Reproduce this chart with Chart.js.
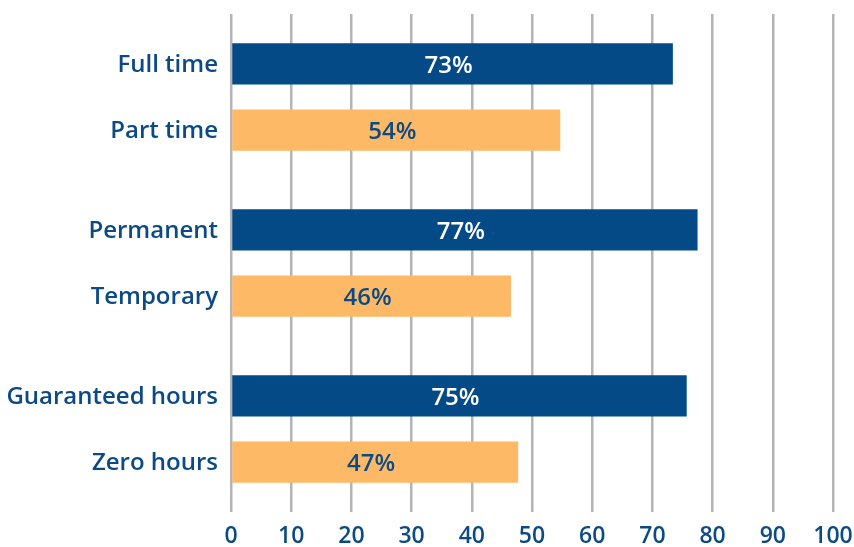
<!DOCTYPE html>
<html>
<head>
<meta charset="utf-8">
<script src="https://cdn.jsdelivr.net/npm/chart.js@4/dist/chart.umd.min.js"></script>
<style>
  html, body { margin: 0; padding: 0; background: #ffffff; }
  #wrap { width: 854px; height: 547px; }
</style>
</head>
<body>
<div id="wrap"><canvas id="jobChart"></canvas></div>
<script>
// each group holds two bars: the dark one on top, the orange one below
var groups = ['Hours', 'Contract', 'Guaranteed'];
var topNames = ['Full time', 'Permanent', 'Guaranteed hours'];
var bottomNames = ['Part time', 'Temporary', 'Zero hours'];
var topValues = [73.4, 77.5, 75.7];
var bottomValues = [54.7, 46.5, 47.7];
var xTicks = [0, 10, 20, 30, 40, 50, 60, 70, 80, 90, 100];

var DARK = '#034a87';
var ORANGE = '#fdb966';
var TEXT = '#0c4a86';
var FONT = '"Open Sans", "Noto Sans", sans-serif';

// writes the row names left of the axis and the percentages inside the bars
var barLabels = {
    id: 'barLabels',
    afterDatasetsDraw: function (chart) {
        var ctx = chart.ctx;
        var area = chart.chartArea;
        ctx.save();
        ctx.font = '600 24px ' + FONT;
        ctx.textBaseline = 'middle';
        chart.data.datasets.forEach(function (ds, di) {
            var meta = chart.getDatasetMeta(di);
            meta.data.forEach(function (bar, i) {
                ctx.fillStyle = TEXT;
                ctx.textAlign = 'right';
                ctx.fillText(ds.names[i], area.left - 13, bar.y + 1);

                ctx.fillStyle = di === 0 ? '#ffffff' : TEXT;
                ctx.textAlign = 'center';
                ctx.fillText(Math.floor(ds.data[i]) + '%', (bar.x + bar.base) / 2 - 4, bar.y + 2);
            });
        });
        ctx.restore();
    }
};

new Chart(document.getElementById('jobChart').getContext('2d'), {
    type: 'bar',
    data: {
        labels: groups,
        datasets: [
            { label: 'top', names: topNames, data: topValues, backgroundColor: DARK },
            { label: 'bottom', names: bottomNames, data: bottomValues, backgroundColor: ORANGE }
        ]
    },
    options: {
        indexAxis: 'y',
        responsive: true,
        maintainAspectRatio: false,
        animation: false,
        categoryPercentage: 0.8,
        barPercentage: 0.62,
        layout: { padding: { left: 231, right: 21, top: 14, bottom: 0 } },
        plugins: {
            legend: { display: false },
            tooltip: { enabled: false }
        },
        scales: {
            x: {
                min: 0,
                max: 100,
                afterBuildTicks: function (scale) {
                    scale.ticks = xTicks.map(function (v) { return { value: v }; });
                },
                afterFit: function (scale) {
                    scale.height = 35;
                    scale.paddingLeft = 0;
                    scale.paddingRight = 0;
                },
                border: { display: false },
                grid: { color: '#b4b4b6', lineWidth: 2.5, drawTicks: false },
                ticks: {
                    color: TEXT,
                    padding: 13,
                    maxRotation: 0,
                    font: { family: FONT, size: 23, weight: '600', lineHeight: 1 }
                }
            },
            y: {
                display: false
            }
        }
    },
    plugins: [barLabels]
});
</script>
</body>
</html>
